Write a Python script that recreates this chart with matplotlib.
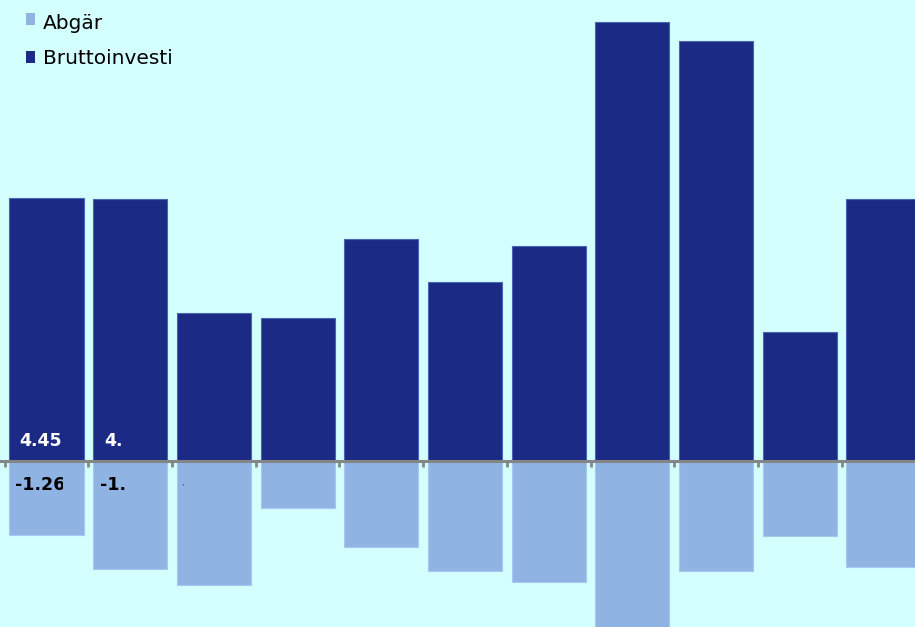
import matplotlib
matplotlib.use("Agg")
import matplotlib.pyplot as plt
from matplotlib.patches import Rectangle
from matplotlib.transforms import Bbox
import numpy as np

plt.rcParams['font.family'] = ['DejaVu Sans']

categories = list(range(11))
brutto = [4.45, 4.43, 2.50, 2.42, 3.76, 3.03, 3.64, 7.43, 7.11, 2.18, 4.43]
abgar = [-1.26, -1.83, -2.10, -0.80, -1.46, -1.86, -2.05, -2.95, -1.86, -1.27, -1.79]
series_names = ["Abgär", "Bruttoinvesti"]
pos_labels = ["4.45", "4."]
neg_labels = ["-1.26", "-1."]

BG = "#d4ffff"
DARK = "#1b2a84"
LIGHT = "#8fb4e3"

W, H = 915, 627
fig = plt.figure(figsize=(W / 100, H / 100), dpi=100, facecolor=BG)
ax = fig.add_axes([0, 0, 1, 1])
ax.set_facecolor(BG)

x = np.arange(len(categories))
w = 0.885
ax.bar(x, brutto, width=w, color=DARK, edgecolor="#4a64b4", linewidth=0.8, zorder=2)
ax.bar(x, abgar, width=w, color=LIGHT, edgecolor="#a9c6ee", linewidth=0.8, zorder=2)

# axis line at zero with ticks at category boundaries
for s in ["top", "right", "left"]:
    ax.spines[s].set_visible(False)
ax.spines["bottom"].set_position(("data", 0))
ax.spines["bottom"].set_color("#858585")
ax.spines["bottom"].set_linewidth(2.2)
ax.spines["bottom"].set_zorder(3)
ax.set_xticks(np.arange(-0.5, 11.5, 1.0))
ax.set_xticklabels([])
ax.tick_params(axis="x", direction="out", length=4.5, width=2, color="#858585")
ax.set_yticks([])

ax.set_xlim(-0.556, 10.376)
ax.set_ylim(-2.81, 7.80)

# value labels (clipped in original)
pos_off = [0.12, 0.13]
neg_off = [0.07, 0.08]
for i, t in enumerate(pos_labels):
    ax.text(x[i] - w / 2 + pos_off[i], 0.254, t, color="white", fontsize=12.5,
            fontweight="bold", ha="left", va="baseline", zorder=4)
for i, t in enumerate(neg_labels):
    txt = ax.text(x[i] - w / 2 + neg_off[i], -0.49, t, color="black", fontsize=12.5,
                  fontweight="bold", ha="left", va="baseline", zorder=4)
    if i == 0:
        txt.set_clip_box(Bbox([[0, 0], [63, H]]))
        txt.set_clip_on(True)
ax.text(x[2] - w / 2 + 0.07, -0.42, "'", color="black", fontsize=4,
        ha="left", va="center", zorder=4)

# legend drawn manually (pixel-placed)
leg_colors = [LIGHT, DARK]
sq_top = [13, 51]
baselines = [29, 64]
for name, c, top, base in zip(series_names, leg_colors, sq_top, baselines):
    fig.patches.append(Rectangle((26 / W, 1 - (top + 12) / H), 9 / W, 12 / H,
                                 transform=fig.transFigure, facecolor=c,
                                 edgecolor="none", zorder=5))
    fig.text(43 / W, 1 - base / H, name, fontsize=14.5, color="black",
             ha="left", va="baseline", zorder=5)

fig.savefig("out.png", dpi=100, facecolor=BG)
